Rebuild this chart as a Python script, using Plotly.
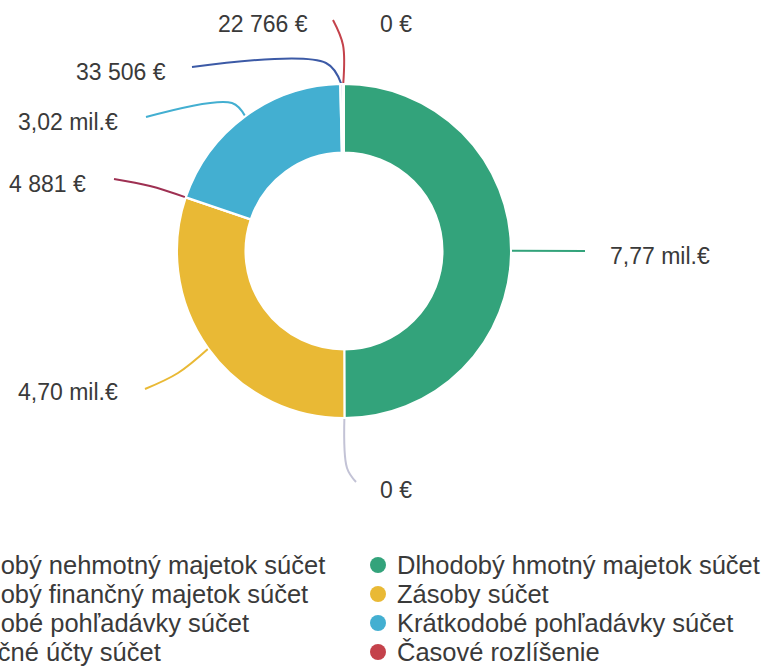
import math
import plotly.graph_objects as go

# ---- data ----
categories = [
    "Dlhodobý nehmotný majetok súčet",
    "Dlhodobý hmotný majetok súčet",
    "Dlhodobý finančný majetok súčet",
    "Zásoby súčet",
    "Dlhodobé pohľadávky súčet",
    "Krátkodobé pohľadávky súčet",
    "Finančné účty súčet",
    "Časové rozlíšenie",
]
values = [0, 7_770_000, 0, 4_700_000, 4_881, 3_020_000, 33_506, 22_766]
colors = ["#7b74b8", "#33a37b", "#c3c3d6", "#e9b935", "#9e3052", "#43afd1", "#3c5aa6", "#c4424b"]

# ---- layout constants (pixels in a 762x666 page) ----
W, H = 762, 666
CX, CY, R = 344, 251, 167
HOLE = 0.59
TEXT_COLOR = "#3a3a3a"
FONT = "Liberation Sans, Arial, sans-serif"

# label placement: (anchor x, anchor y, xanchor, bend points of leader)
label_layout = [
    dict(x=378, y=24, xa="left", bend=None),
    dict(x=608, y=256, xa="left", bend=[(585, 251)]),
    dict(x=378, y=490, xa="left", bend=[(347, 468), (356, 482)]),
    dict(x=120, y=392, xa="right", bend=[(178, 373), (145, 389)]),
    dict(x=88, y=184, xa="right", bend=[(150, 186), (114, 179)]),
    dict(x=120, y=122, xa="right", bend=[(232, 103), (146, 117)]),
    dict(x=168, y=72, xa="right", bend=[(326, 63), (192, 67)]),
    dict(x=310, y=24, xa="right", bend=[(343, 45), (333, 20)]),
]


def fmt(v):
    if v >= 1_000_000:
        return f"{v / 1_000_000:.2f}".replace(".", ",") + " mil.€"
    return f"{v:,}".replace(",", " ") + " €"


fig = go.Figure()

fig.add_trace(go.Pie(
    labels=categories,
    values=values,
    sort=False,
    direction="clockwise",
    rotation=0,
    hole=HOLE,
    marker=dict(colors=colors, line=dict(color="white", width=2)),
    textinfo="none",
    hoverinfo="label+value",
    showlegend=False,
    domain=dict(x=[(CX - R) / W, (CX + R) / W], y=[1 - (CY + R) / H, 1 - (CY - R) / H]),
))

# leader lines computed from slice angles
total = sum(values)
cum = 0
for i, v in enumerate(values):
    a0 = cum / total * 2 * math.pi
    cum += v
    a1 = cum / total * 2 * math.pi
    mid = (a0 + a1) / 2
    ax = CX + R * math.sin(mid)
    ay = CY - R * math.cos(mid)
    lay = label_layout[i]
    if lay["bend"]:
        xs = [ax] + [p[0] for p in lay["bend"]]
        ys = [ay] + [p[1] for p in lay["bend"]]
        fig.add_trace(go.Scatter(
            x=xs, y=ys, mode="lines",
            line=dict(color=colors[i], width=2, shape="spline", smoothing=1.0),
            hoverinfo="skip", showlegend=False,
        ))
    fig.add_annotation(
        x=lay["x"] / W, y=1 - lay["y"] / H, xref="paper", yref="paper",
        text=fmt(v), showarrow=False, xanchor=lay["xa"], yanchor="middle",
        font=dict(size=23, color=TEXT_COLOR, family=FONT),
    )

# custom two-column legend (row-major order), left column partly cut off
col_text_x = [-68, 395]
col_marker_x = [-85, 378]
row_y0, row_dy = 565, 29
for i, name in enumerate(categories):
    row, col = divmod(i, 2)
    y = row_y0 + row * row_dy
    fig.add_shape(
        type="circle", xref="paper", yref="paper",
        x0=(col_marker_x[col] - 8) / W, x1=(col_marker_x[col] + 8) / W,
        y0=1 - (y + 8) / H, y1=1 - (y - 8) / H,
        fillcolor=colors[i], line=dict(width=0),
    )
    fig.add_annotation(
        x=col_text_x[col] / W, y=1 - y / H, xref="paper", yref="paper",
        text=name, showarrow=False, xanchor="left", yanchor="middle",
        font=dict(size=25.5, color=TEXT_COLOR, family=FONT),
    )

fig.update_layout(
    width=W, height=H,
    margin=dict(l=0, r=0, t=0, b=0, autoexpand=False),
    paper_bgcolor="white", plot_bgcolor="rgba(0,0,0,0)",
    xaxis=dict(range=[0, W], visible=False, fixedrange=True),
    yaxis=dict(range=[H, 0], visible=False, fixedrange=True),
    showlegend=False,
)

fig.write_html(
    "out.html",
    config={"displayModeBar": False},
    post_script="document.body.style.margin='0';document.body.style.overflow='hidden';",
)
